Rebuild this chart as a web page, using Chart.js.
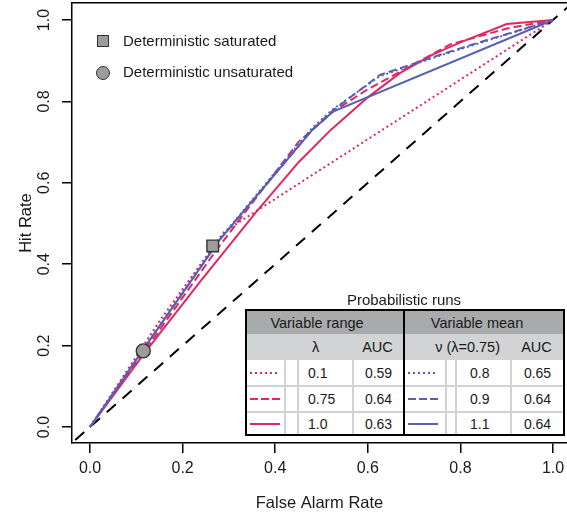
<!DOCTYPE html>
<html><head><meta charset="utf-8">
<script src="https://cdn.jsdelivr.net/npm/chart.js@4.4.1/dist/chart.umd.min.js"></script>
<style>
html,body{margin:0;padding:0;background:#fff;}
#wrap{position:relative;width:567px;height:516px;overflow:hidden;font-family:"Liberation Sans",Arial,sans-serif;color:#1a1a1a;}
#c{position:absolute;left:0;top:0;}
.leg{position:absolute;left:123px;font-size:15px;line-height:18px;white-space:nowrap;}
.mk{position:absolute;box-sizing:border-box;background:#9b9c9e;border:1.4px solid #333;}
#ttl{position:absolute;left:304px;width:200px;top:291px;text-align:center;font-size:15px;line-height:18px;}
#tbl{position:absolute;left:245px;top:309px;width:320px;height:127px;box-sizing:border-box;border:2px solid #000;background:#fff;
 display:grid;grid-template-columns:37px 13px 55px 51px 2px 40px 10px 55px 53px;grid-template-rows:23px 26px 25px 26px 23px;font-size:14px;}
#tbl>div{box-sizing:border-box;display:flex;align-items:center;white-space:nowrap;}
.h1{background:#a8aaac;justify-content:center;font-size:14.5px;}
.h2{background:#d1d3d4;font-size:14.5px;}
.vd{background:#000;}
.sep{border-left:2px solid #d0d2d3;}
.rt{border-top:2px solid #d0d2d3;}
.ctr{justify-content:center;}
</style></head>
<body>
<div id="wrap">
<canvas id="c" width="567" height="516"></canvas>
<div class="mk" style="left:97px;top:35px;width:12px;height:12px;"></div>
<div class="leg" style="top:32px;">Deterministic saturated</div>
<div class="mk" style="left:96px;top:66px;width:14px;height:14px;border-radius:50%;"></div>
<div class="leg" style="top:63px;">Deterministic unsaturated</div>
<div id="ttl">Probabilistic runs</div>
<div id="tbl"></div>
</div>
<script>
// ---- data ----
const xTicks = [0, 0.2, 0.4, 0.6, 0.8, 1.0];
const yTicks = [0, 0.2, 0.4, 0.6, 0.8, 1.0];
const xRange = [-0.0389, 1.0302];
const yRange = [-0.0393, 1.0418];
const identityLine = [-0.1, 1.1];

const satX = [0.265], satY = [0.445];
const unsatX = [0.115], unsatY = [0.187];

// Variable range (pink)
const lam01X = [0, 0.15, 0.29, 1];
const lam01Y = [0, 0.26, 0.48, 1];
const lam075X = [0, 0.12, 0.27, 0.45, 0.525, 0.60, 0.67, 0.778, 0.90, 1];
const lam075Y = [0, 0.19, 0.43, 0.70, 0.775, 0.83, 0.873, 0.94, 0.979, 1];
const lam10X = [0, 0.12, 0.24, 0.36, 0.45, 0.52, 0.60, 0.67, 0.74, 0.80, 0.90, 1];
const lam10Y = [0, 0.185, 0.36, 0.53, 0.65, 0.73, 0.81, 0.87, 0.915, 0.945, 0.99, 1];
// Variable mean (blue)
const nu08X = [0, 0.115, 0.28, 0.48, 0.525, 0.626, 0.749, 0.849, 1];
const nu08Y = [0, 0.192, 0.462, 0.735, 0.781, 0.862, 0.910, 0.946, 1];
const nu09X = [0, 0.115, 0.28, 0.48, 0.525, 0.626, 0.749, 0.849, 1];
const nu09Y = [0, 0.19, 0.46, 0.73, 0.778, 0.865, 0.912, 0.948, 1];
const nu11X = [0, 0.115, 0.28, 0.48, 0.525, 1];
const nu11Y = [0, 0.19, 0.46, 0.73, 0.775, 1];

const lambdaLabels = ['0.1', '0.75', '1.0'];
const lambdaAUC = ['0.59', '0.64', '0.63'];
const nuLabels = ['0.8', '0.9', '1.1'];
const nuAUC = ['0.65', '0.64', '0.64'];

const PINK = '#e3265f', BLUE = '#5560b5';
const DOT = [2, 3], DASH = [8, 4];

// ---- table ----
const tbl = document.getElementById('tbl');
function cell(html, style, cls) {
  const d = document.createElement('div');
  d.innerHTML = html; if (style) d.style.cssText = style; if (cls) d.className = cls;
  tbl.appendChild(d); return d;
}
function sample(color, dash) {
  const da = dash === 'dot' ? 'stroke-dasharray="2 3"' : dash === 'dash' ? 'stroke-dasharray="8 3"' : '';
  return '<svg width="30" height="4" style="display:block"><line x1="0" y1="2" x2="30" y2="2" stroke="' + color + '" stroke-width="2" ' + da + '/></svg>';
}
cell('Variable range', 'grid-column:1/5;grid-row:1;padding-right:16px;', 'h1');
cell('', 'grid-column:5;grid-row:1/6;', 'vd');
cell('Variable mean', 'grid-column:6/10;grid-row:1;padding-right:14px;', 'h1');
cell('', 'grid-column:1/3;grid-row:2;', 'h2');
cell('λ', 'grid-column:3;grid-row:2;padding-left:15px;', 'h2');
cell('AUC', 'grid-column:4;grid-row:2;', 'h2 ctr');
cell('ν (λ=0.75)', 'grid-column:6/9;grid-row:2;justify-content:flex-end;padding-right:10px;', 'h2');
cell('AUC', 'grid-column:9;grid-row:2;', 'h2 ctr');
const styles = ['dot', 'dash', 'solid'];
for (let i = 0; i < 3; i++) {
  const r = 3 + i, rt = i > 0 ? ' rt' : '';
  cell(sample(PINK, styles[i]), 'grid-column:1;grid-row:' + r + ';padding-left:3px;', rt.trim());
  cell('', 'grid-column:2;grid-row:' + r, 'sep' + rt);
  cell(lambdaLabels[i], 'grid-column:3;grid-row:' + r + ';padding-left:9px;', 'sep' + rt);
  cell(lambdaAUC[i], 'grid-column:4;grid-row:' + r, 'sep ctr' + rt);
  cell(sample(BLUE, styles[i]), 'grid-column:6;grid-row:' + r + ';padding-left:3px;', rt.trim());
  cell('', 'grid-column:7;grid-row:' + r, 'sep' + rt);
  cell(nuLabels[i], 'grid-column:8;grid-row:' + r + ';padding-left:13px;', 'sep' + rt);
  cell(nuAUC[i], 'grid-column:9;grid-row:' + r, 'sep ctr' + rt);
}

// ---- chart ----
function pts(xs, ys) { return xs.map((x, i) => ({x: x, y: ys[i]})); }
function line(label, xs, ys, color, dash, w) {
  return {label, data: pts(xs, ys), borderColor: color, borderWidth: w || 2, borderDash: dash || [],
    pointRadius: 0, fill: false, tension: 0, showLine: true};
}
Chart.defaults.font.family = '"Liberation Sans", Arial, sans-serif';
Chart.defaults.color = '#1a1a1a';
const tickFmt = v => Number(v).toFixed(1);

new Chart(document.getElementById('c'), {
  type: 'line',
  data: {
    datasets: [
      {label: 'Deterministic saturated', data: pts(satX, satY), showLine: false, pointStyle: 'rect', pointRadius: 8.2,
        backgroundColor: '#9b9c9e', borderColor: '#333', borderWidth: 1.4},
      {label: 'Deterministic unsaturated', data: pts(unsatX, unsatY), showLine: false, pointStyle: 'circle', pointRadius: 7,
        backgroundColor: '#9b9c9e', borderColor: '#333', borderWidth: 1.4},
      line('nu 1.1', nu11X, nu11Y, BLUE, [], 2),
      line('nu 0.9', nu09X, nu09Y, BLUE, DASH, 2),
      line('nu 0.8', nu08X, nu08Y, BLUE, DOT, 2),
      line('lambda 1.0', lam10X, lam10Y, PINK, [], 2),
      line('lambda 0.75', lam075X, lam075Y, PINK, DASH, 2),
      line('lambda 0.1', lam01X, lam01Y, PINK, DOT, 2),
      line('no skill', identityLine, identityLine, '#000', [12, 9], 2)
    ]
  },
  options: {
    responsive: false, animation: false, devicePixelRatio: 1,
    layout: {autoPadding: false, padding: {top: 3, right: 0, bottom: 0, left: 0}},
    plugins: {legend: {display: false}, tooltip: {enabled: false}},
    scales: {
      x: {
        type: 'linear', position: 'bottom', min: xRange[0], max: xRange[1],
        afterBuildTicks: s => { s.ticks = xTicks.map(v => ({value: v})); },
        afterFit: s => { s.height = 73; s.paddingLeft = 0; s.paddingRight = 0; },
        ticks: {font: {size: 16}, padding: 6, callback: tickFmt, autoSkip: false, maxRotation: 0, color: '#1a1a1a'},
        grid: {drawOnChartArea: false, drawTicks: true, tickLength: 10, color: '#000', lineWidth: 1.5},
        border: {display: true, color: '#000', width: 1.5},
        title: {display: true, text: 'False Alarm Rate', font: {size: 16.5}, color: '#1a1a1a', padding: {top: 0, bottom: 3}}
      },
      y: {
        type: 'linear', position: 'left', min: yRange[0], max: yRange[1],
        afterBuildTicks: s => { s.ticks = yTicks.map(v => ({value: v})); },
        afterFit: s => { s.width = 72; s.paddingTop = 0; s.paddingBottom = 0; },
        ticks: {font: {size: 16}, padding: 6, minRotation: 90, maxRotation: 90, crossAlign: 'center', callback: tickFmt, autoSkip: false, color: '#1a1a1a'},
        grid: {drawOnChartArea: false, drawTicks: true, tickLength: 10, color: '#000', lineWidth: 1.5},
        border: {display: true, color: '#000', width: 1.5},
        title: {display: true, text: 'Hit Rate', font: {size: 16.5}, color: '#1a1a1a', padding: {top: 17, bottom: 0}}
      },
      xTop: {
        type: 'linear', position: 'top', min: xRange[0], max: xRange[1],
        afterFit: s => { s.height = 0; s.paddingLeft = 0; s.paddingRight = 0; },
        ticks: {display: false},
        grid: {drawOnChartArea: false, drawTicks: false, color: '#000', lineWidth: 1.5},
        border: {display: true, color: '#000', width: 1.5}
      }
    }
  }
});
</script>
</body></html>
